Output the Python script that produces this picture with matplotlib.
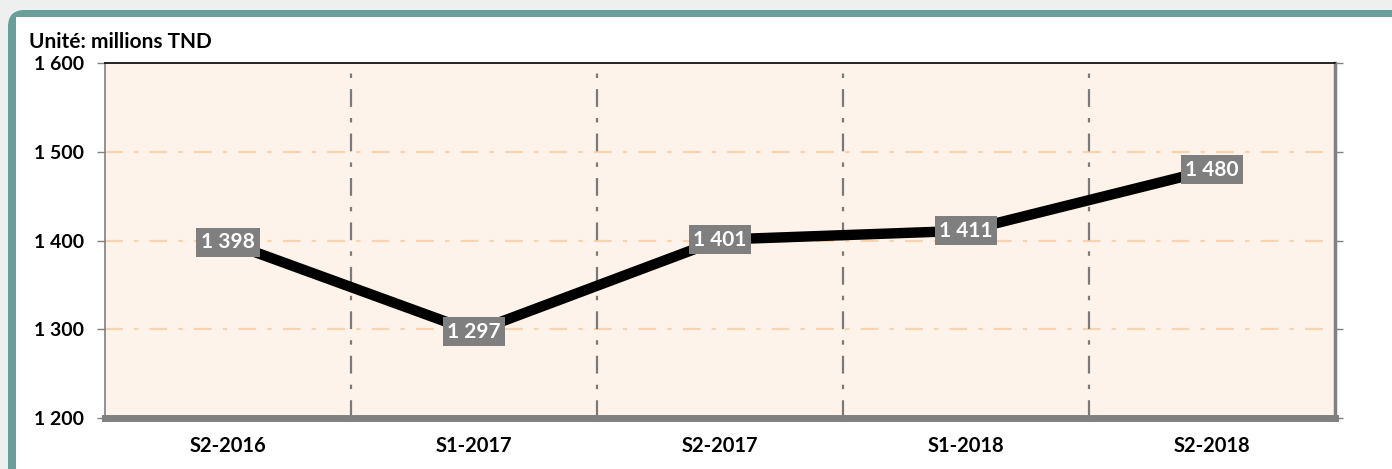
import matplotlib
matplotlib.use('Agg')
import matplotlib.pyplot as plt
from matplotlib.patches import FancyBboxPatch, Rectangle

# donnees
periodes = ['S2-2016', 'S1-2017', 'S2-2017', 'S1-2018', 'S2-2018']
valeurs = [1398, 1297, 1401, 1411, 1480]
yticks = [1200, 1300, 1400, 1500, 1600]

W, H = 1392, 469
plt.rcParams['font.family'] = ['Lato', 'DejaVu Sans']

fig = plt.figure(figsize=(W / 100., H / 100.), dpi=100)
fig.patch.set_facecolor('#eef0ef')

# cadre teal + panneau blanc
fig.patches.append(FancyBboxPatch((8. / W, -40. / H), (W + 40. - 8) / W, (H - 10. + 40) / H,
                                  boxstyle='round,pad=0,rounding_size=0.012',
                                  transform=fig.transFigure, facecolor='#6a9e99',
                                  edgecolor='none', zorder=0, mutation_aspect=W / H))
fig.patches.append(Rectangle((16. / W, -10. / H), (W - 6.) / W, (H - 17. + 10) / H,
                             transform=fig.transFigure, facecolor='white',
                             edgecolor='none', zorder=1))

x0, x1, y0, y1 = 105, 1335, 418, 63
ax = fig.add_axes([x0 / W, 1 - y0 / H, (x1 - x0) / W, (y0 - y1) / H])
ax.set_facecolor('#fef3ea')
ax.set_zorder(2)

xs = list(range(len(periodes)))
ax.plot(xs, valeurs, color='black', lw=7.5, solid_capstyle='butt', zorder=3)

for x, v in zip(xs, valeurs):
    lab = '{:,}'.format(v).replace(',', ' ')
    ax.text(x, v, lab, ha='center', va='center', color='white', fontsize=15,
            fontweight='bold', zorder=5,
            bbox=dict(boxstyle='square,pad=0.22', facecolor='#7f7f7f', edgecolor='none'))

ax.set_xlim(-0.5, len(periodes) - 0.5)
ax.set_ylim(1200, 1600)

# grille horizontale orange clair
for y in yticks[1:-1]:
    ax.axhline(y, color='#fcd2ad', lw=1.6, ls=(0, (8, 5, 2, 5)), zorder=1)
# separateurs verticaux
for i in range(1, len(periodes)):
    ax.axvline(i - 0.5, color='#7a7a7a', lw=1.6, ls=(0, (8, 5, 2, 5)), zorder=1)

ax.set_yticks(yticks)
ax.set_yticklabels(['{:,}'.format(t).replace(',', ' ') for t in yticks],
                   fontsize=14, fontweight='bold')
ax.set_xticks(xs)
ax.set_xticklabels(periodes, fontsize=14.5, fontweight='bold')
ax.tick_params(axis='x', length=0, pad=13)
ax.tick_params(axis='y', length=6, width=1, color='#808080', pad=9)

ax.spines['left'].set_color('#808080')
ax.spines['left'].set_linewidth(1.2)
ax.spines['top'].set_color('black')
ax.spines['top'].set_linewidth(1.2)
ax.spines['right'].set_color('#808080')
ax.spines['right'].set_linewidth(2.5)
ax.spines['bottom'].set_color('#808080')
ax.spines['bottom'].set_linewidth(5)

# petites graduations du bas (aux separateurs)
for i in range(len(periodes) + 1):
    ax.plot([i - 0.5, i - 0.5], [1200, 1196], color='#808080', lw=4,
            clip_on=False, zorder=4, solid_capstyle='butt')

# graduations a droite
ax2 = ax.twinx()
ax2.set_ylim(1200, 1600)
ax2.set_yticks(yticks)
ax2.set_yticklabels([])
ax2.tick_params(axis='y', length=6, width=1, color='#808080')
for s in ax2.spines.values():
    s.set_visible(False)

fig.text(29. / W, 1 - 42. / H, 'Unité: millions TND', fontsize=15, fontweight='bold',
         va='center', ha='left', zorder=3)

fig.savefig('out.png', dpi=100, facecolor=fig.get_facecolor())
